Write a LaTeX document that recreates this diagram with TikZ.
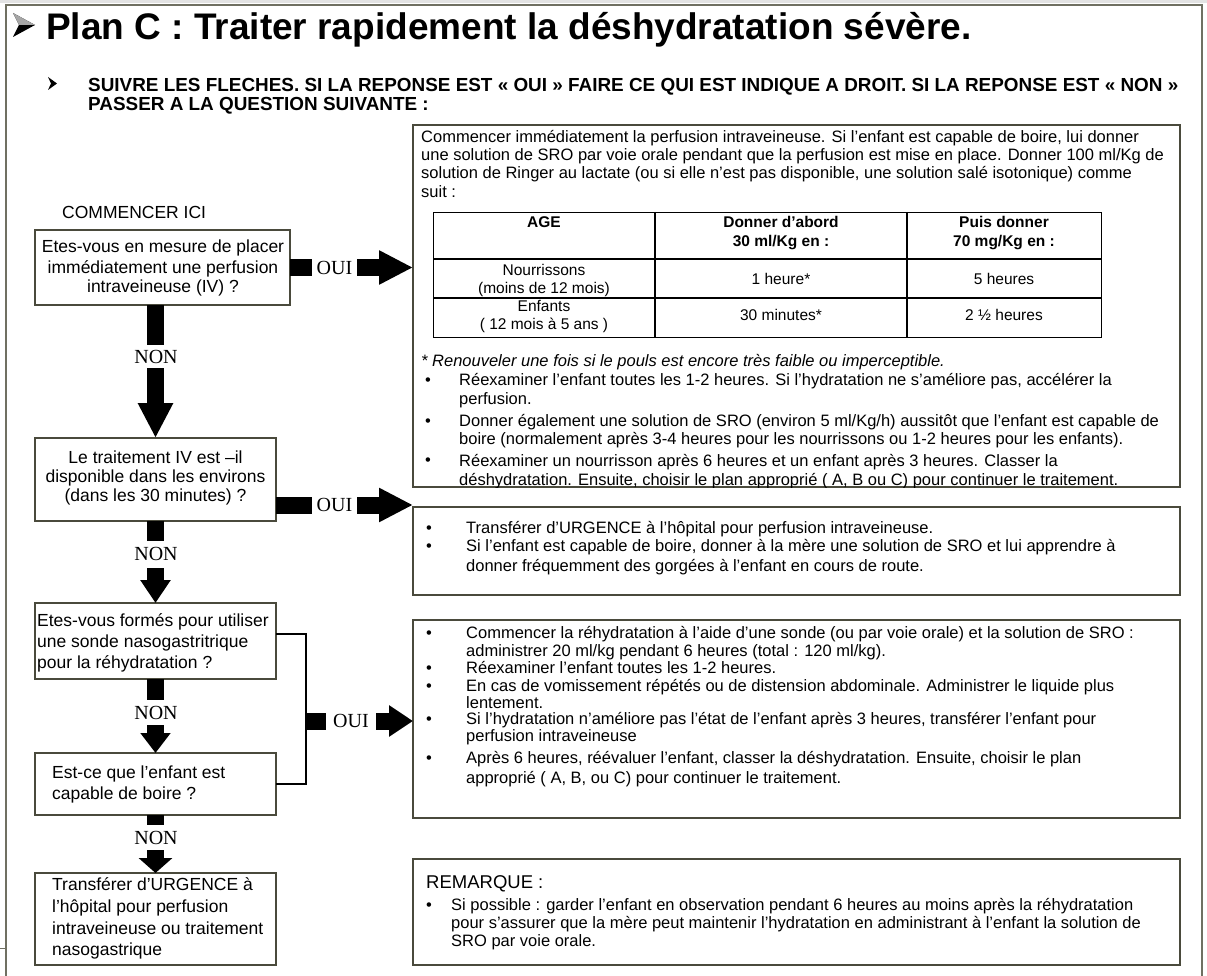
\documentclass[tikz,border=0pt]{standalone}
\usepackage{fontspec}
\setmainfont{Liberation Sans}
\newfontfamily\timesf{Liberation Serif}
\usetikzlibrary{arrows.meta,calc}
\definecolor{boxc}{HTML}{4A4A3C}
\definecolor{framec}{HTML}{707062}
\newcommand{\fRT}{\fontsize{16.5}{18}\selectfont}
\newcommand{\fLQ}{\fontsize{17.5}{20}\selectfont}
\newcommand{\fTH}{\fontsize{15.5}{18}\selectfont\bfseries}
\newcommand{\fTD}{\fontsize{15.5}{18}\selectfont}
\newcommand{\fLAB}{\timesf\fontsize{20}{20}\selectfont}
\begin{document}
\begin{tikzpicture}[x=1pt,y=-1pt,
  box/.style={draw=boxc, line width=1.2pt, anchor=north west, inner sep=0pt, outer sep=0pt},
  rt/.style={anchor=base west, inner sep=0pt, font=\fRT},
  lqc/.style={anchor=base, inner sep=0pt, font=\fLQ},
  lql/.style={anchor=base west, inner sep=0pt, font=\fLQ},
  th/.style={anchor=base, inner sep=0pt, font=\fTH},
  td/.style={anchor=base, inner sep=0pt, font=\fTD},
  lab/.style={fill=white, inner sep=0pt, font=\fLAB},
  hbar/.style={line width=17pt, -{Triangle[length=34pt,width=32pt]}},
  hbarsm/.style={line width=17pt, -{Triangle[length=24pt,width=30pt]}},
  vbar/.style={line width=17pt, -{Triangle[#1]}},
  brk/.style={draw=black, line width=1.2pt},
  tabl/.style={draw=black, line width=1.3pt},
  headf/.style={anchor=base west, inner sep=0pt, font=\fontsize{18.9}{20}\selectfont\bfseries}
]
\useasboundingbox (0,0) rectangle (1207,976);
% outer frame
\fill[gray!22] (0,0) rectangle (1207,3);
\draw[framec, line width=1.5pt] (6,976) -- (6,5) -- (1202,5) -- (1202,976);
\draw[framec, line width=1pt] (0,948) -- (6,948);

% title arrows (bullet glyphs)
\fill[black] (13,13) -- (35,25) -- (13,37) -- (19,25) -- cycle;
\fill[gray!70] (13,13) -- (35,25) -- (19,25) -- cycle;
\fill[black] (48,77) -- (57,83.5) -- (48,90) -- (51,83.5) -- cycle;

% title
\node[anchor=base west, inner sep=0pt, font=\fontsize{37}{40}\selectfont\bfseries] (title) at (46,40) {Plan C : Traiter rapidement la déshydratation sévère.};
\node[headf] (h1) at (88,92) {SUIVRE LES FLECHES. SI LA REPONSE EST « OUI »  FAIRE CE  QUI EST INDIQUE A DROIT. SI LA REPONSE EST « NON »};
\node[headf] (h2) at (88,111) {PASSER  A LA QUESTION SUIVANTE :};

% left column
\node[lql] (start) at (62,219) {COMMENCER ICI};
\node[box, minimum width=255pt, minimum height=75pt] (b1) at (35,230) {};
\node[box, minimum width=241pt, minimum height=83pt] (b2) at (35,438) {};
\node[box, minimum width=241pt, minimum height=76pt] (b3) at (35,603) {};
\node[box, minimum width=241pt, minimum height=62pt] (b4) at (35,753) {};
\node[box, minimum width=241pt, minimum height=92pt] (b5) at (35,873) {};

\node[lqc] (b1a) at (163,253) {Etes-vous en mesure de placer};
\node[lqc] (b1b) at (163,273) {immédiatement une perfusion};
\node[lqc] (b1c) at (163,293) {intraveineuse (IV) ?};
\node[lqc] (b2a) at (155.5,463) {Le traitement IV est –il};
\node[lqc] (b2b) at (155.5,482) {disponible dans les environs};
\node[lqc] (b2c) at (155.5,501) {(dans les 30 minutes) ?};
\node[lql] (b3a) at (37,626) {Etes-vous formés pour utiliser};
\node[lql] (b3b) at (37,647) {une sonde nasogastritrique};
\node[lql] (b3c) at (37,668) {pour la réhydratation ?};
\node[lql] (b4a) at (52,778) {Est-ce que l’enfant est};
\node[lql] (b4b) at (52,799) {capable de boire ?};
\node[lql] (b5a) at (52,890) {Transférer d’URGENCE à};
\node[lql] (b5b) at (52,912) {l’hôpital pour perfusion};
\node[lql] (b5c) at (52,934) {intraveineuse ou traitement};
\node[lql] (b5d) at (52,955) {nasogastrique};

% right boxes
\node[box, minimum width=767pt, minimum height=362pt] (r1) at (413,125) {};
\node[box, minimum width=767pt, minimum height=88pt] (r2) at (413,507) {};
\node[box, minimum width=767pt, minimum height=198pt] (r3) at (413,620) {};
\node[box, minimum width=767pt, minimum height=106pt] (r4) at (413,859) {};

% r1 content
\begin{scope}
\clip (413,125) rectangle (1180,487);
\foreach \yy/\txt [count=\i] in {
 143/{Commencer immédiatement la perfusion intraveineuse. Si l’enfant est capable de boire, lui donner},
 161/{une solution de SRO par voie orale pendant que la perfusion est mise en place. Donner 100 ml/Kg de},
 179/{solution de Ringer au lactate (ou si elle  n’est pas disponible, une solution salé isotonique) comme},
 198/{suit :}}
  \node[rt] (ra\i) at (421,\yy) {\txt};
\node[rt, font=\fRT\itshape] (fn) at (421,366) {* Renouveler une fois si le pouls est encore très faible ou imperceptible.};
\foreach \yy [count=\i] in {385,426,465}
  \node[rt] (rbul\i) at (425,\yy) {•};
\foreach \yy/\txt [count=\i] in {
 385/{Réexaminer l’enfant toutes les 1-2 heures. Si l’hydratation ne s’améliore pas, accélérer la},
 404/{perfusion.},
 426/{Donner également une solution de SRO (environ 5 ml/Kg/h) aussitôt que l’enfant est capable de},
 444/{boire (normalement après 3-4 heures pour les nourrissons ou 1-2 heures pour les enfants).},
 466/{Réexaminer un nourrisson après 6 heures et un enfant après 3 heures. Classer la},
 485/{déshydratation. Ensuite, choisir le plan approprié ( A, B ou C) pour continuer le traitement.}}
  \node[rt] (rb\i) at (459,\yy) {\txt};
\end{scope}

% table
\node[tabl, anchor=north west, inner sep=0pt, minimum width=668pt, minimum height=125pt] (tab) at (433,212) {};
\draw[tabl] (433,259) -- (1101,259);
\draw[tabl] (433,298) -- (1101,298);
\draw[tabl] (655,212) -- (655,337);
\draw[tabl] (907,212) -- (907,337);
\node[th] (tAge) at (544,228) {AGE};
\node[th] (tD1) at (781,228) {Donner d’abord};
\node[th] (tD2) at (781,247) {30 ml/Kg en :};
\node[th] (tP1) at (1004,228) {Puis donner};
\node[th] (tP2) at (1004,247) {70 mg/Kg en :};
\node[td] (tN1) at (544,276) {Nourrissons};
\node[td] (tN2) at (544,294) {(moins de 12 mois)};
\node[td] (tN3) at (781,285) {1 heure*};
\node[td] (tN4) at (1004,285) {5 heures};
\node[td] (tE1) at (544,311) {Enfants};
\node[td] (tE2) at (544,329) {( 12 mois à 5 ans )};
\node[td] (tE3) at (781,320) {30 minutes*};
\node[td] (tE4) at (1004,320) {2 ½ heures};

% r2 content
\node[rt] (r2bul1) at (426,533) {•};
\node[rt] (r2bul2) at (426,551) {•};
\node[rt] (r2a) at (466,533) {Transférer d’URGENCE à l’hôpital pour perfusion intraveineuse.};
\node[rt] (r2b) at (466,551) {Si l’enfant est capable de boire, donner à la mère une solution de SRO et lui apprendre à};
\node[rt] (r2c) at (466,571) {donner fréquemment des gorgées à l’enfant en cours de route.};

% r3 content
\foreach \yy [count=\i] in {638,673,691,724,763}
  \node[rt] (r3bul\i) at (426,\yy) {•};
\foreach \yy/\txt [count=\i] in {
 638/{Commencer la réhydratation à l’aide d’une sonde (ou par voie orale) et la solution de SRO :},
 656/{administrer 20 ml/kg pendant 6 heures (total : 120 ml/kg).},
 673/{Réexaminer l’enfant toutes les 1-2 heures.},
 691/{En cas de vomissement répétés ou de distension abdominale. Administrer le liquide plus},
 708/{lentement.},
 724/{Si l’hydratation n’améliore pas l’état de l’enfant après 3 heures, transférer  l’enfant pour},
 741/{perfusion intraveineuse},
 763/{Après 6 heures, réévaluer l’enfant, classer la déshydratation.  Ensuite, choisir le plan},
 783/{approprié ( A, B, ou C) pour continuer le traitement.}}
  \node[rt] (r3t\i) at (466,\yy) {\txt};

% r4 content
\node[rt, font=\fontsize{18.5}{20}\selectfont] (rem) at (426,888) {REMARQUE :};
\node[rt] (r4bul) at (426,910) {•};
\node[rt] (r4a) at (451,910) {Si possible : garder l’enfant en observation pendant 6 heures au moins après la réhydratation};
\node[rt] (r4b) at (451,928) {pour s’assurer que la mère peut maintenir l’hydratation en administrant à l’enfant la solution de};
\node[rt] (r4c) at (451,946) {SRO par voie orale.};

% connectors
\draw[hbar] (b1.east) -- (b1.east -| r1.west);
\node[lab, minimum width=45pt, minimum height=20pt] (oui1) at (334.5,268) {OUI};

\coordinate (j2) at ($(b2.south east)+(0,-16)$);
\draw[hbar] (j2) -- (j2 -| r2.west);
\node[lab, minimum width=45pt, minimum height=20pt] (oui2) at (334.5,505) {OUI};

\coordinate (j3) at (306,721);
\draw[brk] ($(b3.north east)+(0,31)$) -| (j3) |- (b4.east);
\draw[hbarsm] (j3) -- (j3 -| r3.west);
\node[lab, minimum width=50pt, minimum height=20pt] (oui3) at (351,721) {OUI};

\draw[vbar={length=35pt,width=33pt}] (b1.south -| b2.north) -- (b2.north);
\node[lab, minimum width=46pt, minimum height=23pt] (non1) at (156,356.5) {NON};
\draw[vbar={length=23pt,width=29pt}] (b2.south) -- (b3.north);
\node[lab, minimum width=46pt, minimum height=27pt] (non2) at (156,554) {NON};
\draw[vbar={length=20pt,width=29pt}] (b3.south) -- (b4.north);
\node[lab, minimum width=46pt, minimum height=25pt] (non3) at (156,712.5) {NON};
\draw[vbar={length=15pt,width=33pt}] (b4.south) -- (b5.north);
\node[lab, minimum width=46pt, minimum height=25pt] (non4) at (156,837.5) {NON};
\end{tikzpicture}
\end{document}
